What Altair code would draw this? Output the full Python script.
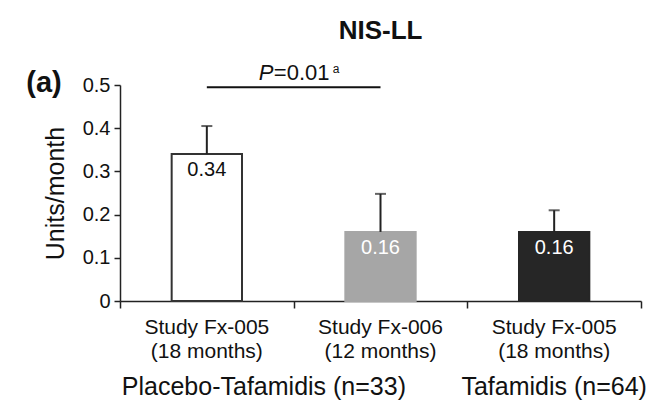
import altair as alt
import pandas as pd

# ---- data ----
keys = ["pt005", "pt006", "t005"]
study_line1 = ["Study Fx-005", "Study Fx-006", "Study Fx-005"]
study_line2 = ["(18 months)", "(12 months)", "(18 months)"]
means = [0.34, 0.16, 0.16]
upper = [0.405, 0.248, 0.21]
value_labels = ["0.34", "0.16", "0.16"]
group_labels = ["Placebo-Tafamidis (n=33)", "Tafamidis (n=64)"]
group_anchor = ["pt005", "t005"]
y_ticks = [0, 0.1, 0.2, 0.3, 0.4, 0.5]
p_from, p_to = "pt005", "pt006"
p_line_value = 0.495
p_parts = ["P", "=0.01", "a"]
panel_label = "(a)"
chart_title = "NIS-LL"
y_title = "Units/month"

FONT = "Liberation Sans"
INK = "#111111"

df = pd.DataFrame({
    "key": keys,
    "mean": means,
    "upper": upper,
    "label": value_labels,
    "idx": list(range(len(keys))),
})
pdf = pd.DataFrame({"a": [p_from], "b": [p_to], "y": [p_line_value],
                    "p0": [p_parts[0]], "p1": [p_parts[1]], "p2": [p_parts[2]]})
gdf = pd.DataFrame({"key": group_anchor, "g": group_labels})

label_map = "{" + ",".join(
    "'%s':['%s','%s']" % (k, a, b) for k, a, b in zip(keys, study_line1, study_line2)
) + "}"

x_axis = alt.Axis(title=None, labelExpr=label_map + "[datum.value]", labelFontSize=21,
                  labelFont=FONT, labelColor=INK, labelPadding=15, labelLineHeight=24,
                  labelAngle=0, ticks=False, tickSize=0, domainColor="#222222",
                  domainWidth=1.5, grid=False)
x_scale = alt.Scale(domain=keys, paddingInner=0.595, paddingOuter=0.2975)

def xk(field="key"):
    return alt.X(f"{field}:N", scale=x_scale, axis=x_axis, sort=keys)

y_axis = alt.Axis(title=y_title, values=y_ticks, format=".1~f", labelFontSize=20,
                  labelFont=FONT, labelColor=INK, labelPadding=4, tickSize=6,
                  tickColor="#222222", tickWidth=1.5, domainColor="#222222",
                  domainWidth=1.5, grid=False, titleFont=FONT, titleFontSize=25,
                  titleFontWeight="normal", titleColor=INK, titlePadding=14)
y_scale = alt.Scale(domain=[0, 0.5], nice=False)

def yq(field):
    return alt.Y(f"{field}:Q", scale=y_scale, axis=y_axis)

bars = alt.Chart(df).mark_bar(strokeWidth=2).encode(
    x=xk(), y=yq("mean"),
    fill=alt.Fill("key:N", scale=alt.Scale(domain=keys, range=["#ffffff", "#a6a6a6", "#262626"]), legend=None),
    stroke=alt.Stroke("key:N", scale=alt.Scale(domain=keys, range=["#333333", "#a6a6a6", "#262626"]), legend=None),
)
err = alt.Chart(df).mark_rule(color="#222222", strokeWidth=2).encode(
    x=xk(), y=yq("mean"), y2="upper:Q")
caps = alt.Chart(df).mark_tick(color="#222222", thickness=2, size=11).encode(
    x=xk(), y=yq("upper"))
vals = alt.Chart(df).mark_text(baseline="top", dy=6, fontSize=20, font=FONT).encode(
    x=xk(), y=yq("mean"), text="label:N",
    color=alt.Color("key:N", scale=alt.Scale(domain=keys, range=[INK, "#ffffff", "#ffffff"]), legend=None))

pline = alt.Chart(pdf).mark_rule(color=INK, strokeWidth=2).encode(
    x=xk("a"), x2="b:N", y=yq("y"))
pt0 = alt.Chart(pdf).mark_text(align="left", baseline="alphabetic", dx=52, dy=-7.5,
                               fontSize=22, font=FONT, fontStyle="italic", color=INK).encode(
    x=xk("a"), y=yq("y"), text="p0:N")
pt1 = alt.Chart(pdf).mark_text(align="left", baseline="alphabetic", dx=67, dy=-7.5,
                               fontSize=22, font=FONT, color=INK).encode(
    x=xk("a"), y=yq("y"), text="p1:N")
pt2 = alt.Chart(pdf).mark_text(align="left", baseline="alphabetic", dx=126, dy=-14.5,
                               fontSize=12, font=FONT, color=INK).encode(
    x=xk("a"), y=yq("y"), text="p2:N")

panel = alt.Chart(pdf).mark_text(align="center", baseline="alphabetic", dy=7,
                                 fontSize=29, fontWeight="bold", font=FONT, color=INK).encode(
    x=alt.value(-76), y=alt.datum(0.5), text=alt.value(panel_label))

g1 = alt.Chart(gdf.iloc[[0]]).mark_text(align="left", baseline="alphabetic", dx=-85,
                                         fontSize=25, font=FONT, color=INK).encode(
    x=xk(), y=alt.value(310), text="g:N")
g2 = alt.Chart(gdf.iloc[[1]]).mark_text(align="center", baseline="alphabetic",
                                         fontSize=25, font=FONT, color=INK).encode(
    x=xk(), y=alt.value(310), text="g:N")

inner = alt.layer(bars, err, caps, vals, pline, pt0, pt1, pt2, panel, g1, g2)

ticks = alt.Chart(df).mark_rule(opacity=0).encode(
    x=alt.X("idx:Q", scale=alt.Scale(domain=[0, 3], nice=False, zero=False),
            axis=alt.Axis(orient="bottom", values=[0, 1, 2, 3], labels=False, domain=False,
                          grid=False, ticks=True, tickSize=7, tickColor="#222222",
                          tickWidth=1.5, title=None)))

chart = alt.layer(inner, ticks).resolve_scale(x="independent").properties(
    width=521, height=216,
    title=alt.TitleParams(chart_title, fontSize=26, fontWeight="bold", font=FONT,
                          color=INK, anchor="middle", frame="group", baseline="bottom", offset=-8),
    autosize=alt.AutoSizeParams(type="none"),
    padding={"left": 112, "top": 77, "right": 15, "bottom": 106},
    background="white",
).configure_view(stroke=None)

chart.save("out.html", embed_options={"renderer": "svg", "actions": False})
